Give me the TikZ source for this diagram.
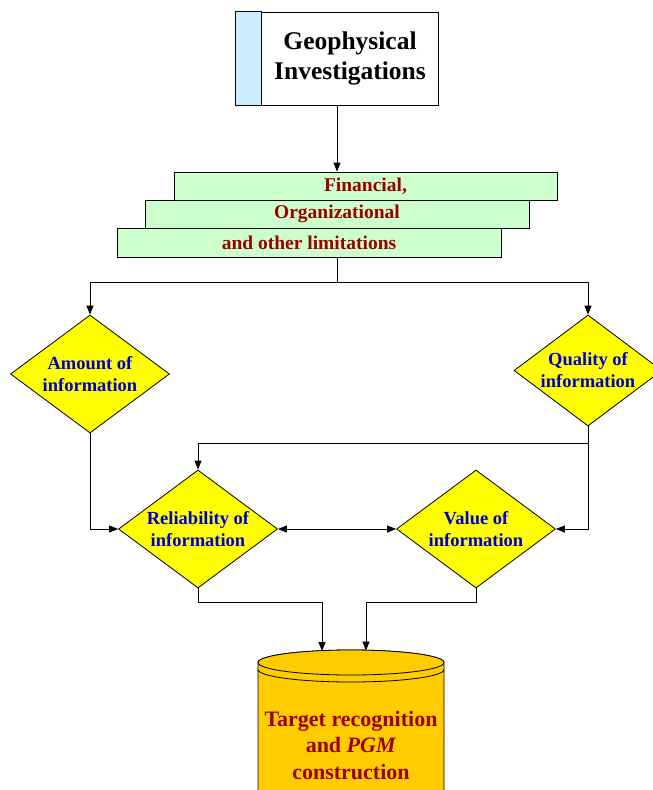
\documentclass[tikz,border=0pt]{standalone}
\usepackage{fontspec}
\setmainfont{Liberation Serif}
\usetikzlibrary{arrows.meta,shapes.geometric}
\definecolor{lblue}{RGB}{204,236,255}
\definecolor{barfill}{RGB}{204,255,204}
\definecolor{yel}{RGB}{255,255,0}
\definecolor{gold}{RGB}{255,204,0}
\definecolor{dred}{RGB}{153,0,0}
\definecolor{infoblue}{RGB}{0,0,204}
\begin{document}
\begin{tikzpicture}[x=1pt,y=-1pt, line width=0.8pt,
  arr/.style={-{Triangle[length=9pt,width=7pt]}},
  darr/.style={{Triangle[length=9pt,width=7pt]}-{Triangle[length=9pt,width=7pt]}},
  dec/.style={diamond, draw, fill=yel, inner sep=-10pt, align=center,
    font=\fontsize{18.5}{22}\selectfont\bfseries, text=infoblue},
  barbox/.style={draw, fill=barfill, minimum height=28pt, inner sep=0pt,
    font=\fontsize{19.5}{22}\selectfont\bfseries, text=dred}]
\useasboundingbox (0,0) rectangle (653,790);
% top box
\node[draw, fill=white, minimum width=202pt, minimum height=93pt, inner sep=0pt] (geo) at (337,58.5) {};
\draw[fill=lblue] (geo.north west) rectangle ([xshift=26pt]geo.south west);
\node[font=\fontsize{25.5}{30}\selectfont\bfseries, align=center] (geot) at (350,58.5) {Geophysical\\Investigations};
% bars
\node[barbox, minimum width=383pt] (b1) at (365.5,186) {Financial,};
\node[barbox, minimum width=384pt] (b2) at (337,214) {Organizational};
\node[barbox, minimum width=384pt, minimum height=29pt] (b3) at (309,242.5) {and other limitations};
% diamonds
\node[dec, minimum width=159pt, minimum height=118pt] (amt) at (90,374) {Amount of\\information};
\node[dec, minimum width=148pt, minimum height=111pt] (qual) at (588,370.5) {Quality of\\information};
\node[dec, minimum width=159pt, minimum height=118pt] (rel) at (198,529) {Reliability of\\information};
\node[dec, minimum width=159pt, minimum height=118pt] (val) at (476,529) {Value of\\information};
% cylinder
\draw[fill=gold] (258,662.5) -- (258,800) -- (444,800) -- (444,662.5)
  arc[start angle=0, end angle=180, x radius=93pt, y radius=12.5pt];
\draw[fill=gold] (351,662.5) ellipse[x radius=93pt, y radius=12.5pt];
\draw (258,669.5) arc[start angle=180, end angle=360, x radius=93pt, y radius=12.5pt];
\node[font=\fontsize{22}{26.5}\selectfont\bfseries, text=dred, align=center] (tgt) at (351,745)
  {Target recognition\\and \textit{PGM}\\construction};
\coordinate (ctopL) at (322,651);
\coordinate (ctopR) at (366,650.5);
% connectors
\draw[arr] (geo.south) -- (geo.south |- b1.north);
\coordinate (j1) at (337,282);
\draw (geo.south |- b3.south) -- (j1);
\draw[arr] (j1) -| (amt.north);
\draw[arr] (j1) -| (qual.north);
\coordinate (j2) at (588,443);
\draw (qual.south) -- (j2);
\draw[arr] (j2) -| (rel.north);
\draw[arr] (j2) |- (val.east);
\draw[arr] (amt.south) |- (rel.west);
\draw[darr] (rel.east) -- (val.west);
\draw[arr] (rel.south) -- ++(0,14) -| (ctopL);
\draw[arr] (val.south) -- ++(0,14) -| (ctopR);
\end{tikzpicture}
\end{document}
